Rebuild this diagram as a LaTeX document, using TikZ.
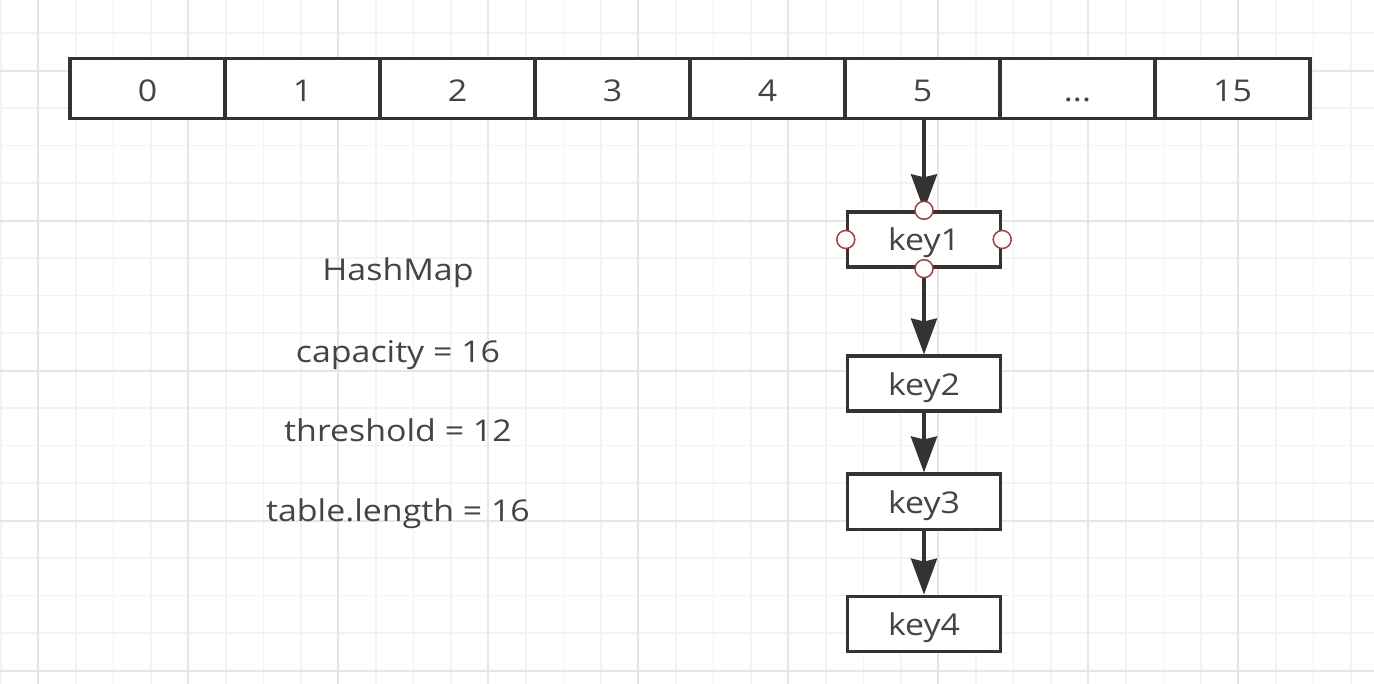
\documentclass[tikz,border=0pt]{standalone}
\usepackage{fontspec}
\setmainfont{Open Sans}[FakeStretch=1.13]
\usetikzlibrary{arrows.meta}
\definecolor{strokec}{RGB}{51,51,51}
\definecolor{textc}{RGB}{68,68,68}
\definecolor{gridminor}{RGB}{243,243,243}
\definecolor{gridmajor}{RGB}{230,230,230}
\definecolor{handlec}{RGB}{160,64,64}
\begin{document}
\begin{tikzpicture}[x=1pt,y=-1pt,
  cell/.style={draw=strokec, line width=3.4pt, fill=white, minimum width=155pt, minimum height=60pt, inner sep=0pt, text=textc, font=\fontsize{30}{35}\selectfont, text height=26pt, text depth=0pt},
  keybox/.style={cell, minimum width=153pt, minimum height=55pt, text height=23pt},
  info/.style={text=textc, font=\fontsize{30}{35}\selectfont, anchor=base, inner sep=0pt},
  link/.style={draw=strokec, line width=3.6pt, -{Stealth[length=36pt,width=26pt,inset=3pt]}},
  handle/.style={circle, draw=handlec, fill=white, line width=1.5pt, minimum size=18pt, inner sep=0pt},
  gminor/.style={draw=gridminor, line width=1.5pt},
  gmajor/.style={draw=gridmajor, line width=1.8pt}]
\useasboundingbox[fill=white] (0,0) rectangle (1374,684);
% grid
\foreach \i in {0,...,36} \draw[gminor] (0.8+37.5*\i,0) -- (0.8+37.5*\i,684);
\foreach \j in {0,...,17} \draw[gminor] (0,33.2+37.5*\j) -- (1374,33.2+37.5*\j);
\foreach \i in {0,...,8} \draw[gmajor] (38.3+150*\i,0) -- (38.3+150*\i,684);
\foreach \j in {0,...,4} \draw[gmajor] (0,70.7+150*\j) -- (1374,70.7+150*\j);
% array
\node[cell] (cell0) at (147.5,88.5) {0};
\node[cell] (cell1) at (302.5,88.5) {1};
\node[cell] (cell2) at (457.5,88.5) {2};
\node[cell] (cell3) at (612.5,88.5) {3};
\node[cell] (cell4) at (767.5,88.5) {4};
\node[cell] (cell5) at (922.5,88.5) {5};
\node[cell] (cell6) at (1077.5,88.5) {...};
\node[cell] (cell7) at (1232.5,88.5) {15};
% chain
\node[keybox] (key1) at (924,239.5) {key1};
\node[keybox] (key2) at (924,383.7) {key2};
\node[keybox] (key3) at (924,501.7) {key3};
\node[keybox] (key4) at (924,623.8) {key4};
\draw[link] (cell5.south -| key1.north) -- (key1.north);
\draw[link] (key1.south) -- (key2.north);
\draw[link] (key2.south) -- (key3.north);
\draw[link] (key3.south) -- (key4.north);
% handles
\node[handle] (h1) at (key1.north) {};
\node[handle] (h2) at (key1.south) {};
\node[handle] (h3) at (key1.west) {};
\node[handle] (h4) at (key1.east) {};
% info
\node[info] (t1) at (398,281) {HashMap};
\node[info] (t2) at (398,363) {capacity = 16};
\node[info] (t3) at (398,441.7) {threshold = 12};
\node[info] (t4) at (398,521.7) {table.length = 16};
\end{tikzpicture}
\end{document}
